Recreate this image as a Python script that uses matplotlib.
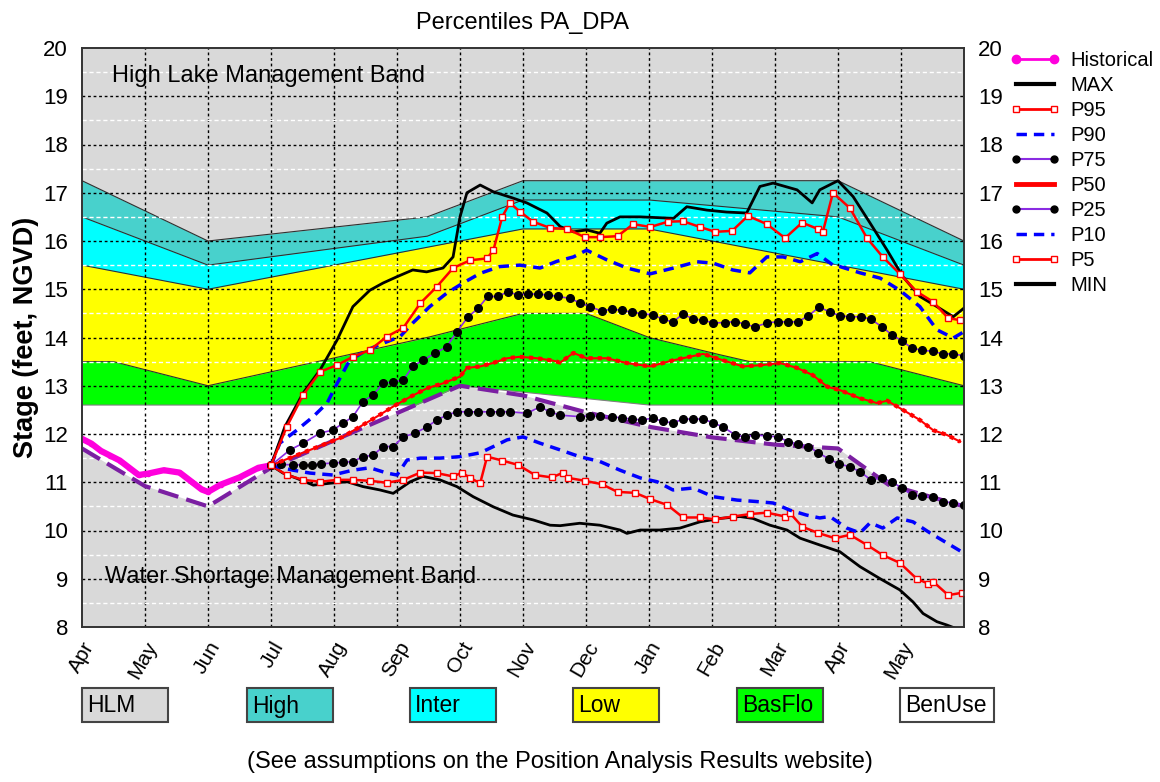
import matplotlib
matplotlib.use('Agg')
import matplotlib.pyplot as plt
from matplotlib.lines import Line2D
from matplotlib.patches import Rectangle
import numpy as np

plt.rcParams['font.family'] = ['Liberation Sans', 'DejaVu Sans']

months = ['Apr', 'May', 'Jun', 'Jul', 'Aug', 'Sep', 'Oct', 'Nov', 'Dec', 'Jan', 'Feb', 'Mar', 'Apr', 'May']

# x in months since Apr 1
# management bands
high_top_x = [0, 2, 5.48, 7, 12, 14]
high_top_y = [17.25, 16.0, 16.5, 17.25, 17.25, 16.0]
inter_top_x = [0, 2, 5.48, 7, 9, 12, 14]
inter_top_y = [16.5, 15.5, 16.1, 16.85, 16.85, 16.5, 15.5]
low_top_x = [0, 2, 7, 9, 12, 14]
low_top_y = [15.5, 15.0, 16.25, 16.25, 15.5, 15.0]
basflo_top_x = [0, 0.5, 2, 5.48, 7, 8, 9, 10, 10.6, 12.5, 14]
basflo_top_y = [13.5, 13.5, 13.0, 14.0, 14.5, 14.5, 14.0, 13.68, 13.5, 13.5, 13.0]
basflo_bot_x = [0, 5.3, 6.0, 9.0, 14]
basflo_bot_y = [12.6, 12.6, 13.0, 12.6, 12.6]
wsm_x = [0, 1, 2, 3, 6, 7, 8, 9, 10, 11, 12, 12.8, 14]
wsm_y = [11.7, 10.92, 10.5, 11.3, 13.0, 12.8, 12.45, 12.15, 11.93, 11.78, 11.7, 10.95, 10.5]

hist_x = [0, 0.15, 0.3, 0.45, 0.6, 0.75, 0.9, 1.05, 1.3, 1.55, 1.75, 1.9, 2.0, 2.2, 2.5, 2.8, 3.0]
hist_y = [11.9, 11.8, 11.65, 11.55, 11.45, 11.3, 11.15, 11.18, 11.25, 11.2, 11.0, 10.85, 10.8, 10.95, 11.1, 11.3, 11.35]

max_x = [3.0, 3.22, 3.51, 3.78, 4.05, 4.3, 4.57, 4.78, 5.0, 5.25, 5.47, 5.73, 5.89, 6.0, 6.11, 6.32, 6.53, 6.84,
         7.06, 7.38, 7.59, 7.8, 8.01, 8.22, 8.33, 8.54, 8.86, 9.39, 9.6, 9.92, 10.23, 10.55, 10.76, 10.97, 11.08,
         11.35, 11.59, 11.71, 12.0, 12.24, 12.51, 12.78, 13.03, 13.3, 13.57, 13.83, 14.0]
max_y = [11.35, 12.15, 12.85, 13.33, 13.95, 14.64, 14.98, 15.13, 15.26, 15.4, 15.36, 15.44, 15.67, 16.5, 17.0, 17.16,
         17.02, 16.89, 16.79, 16.58, 16.3, 16.19, 16.23, 16.16, 16.37, 16.5, 16.5, 16.47, 16.71, 16.64, 16.6, 16.58,
         17.13, 17.2, 17.16, 17.06, 16.79, 17.06, 17.25, 16.92, 16.37, 15.81, 15.26, 14.85, 14.64, 14.43, 14.61]

p95_x = [3.0, 3.25, 3.51, 3.78, 4.05, 4.3, 4.57, 4.84, 5.1, 5.37, 5.63, 5.89, 6.16, 6.43, 6.53, 6.67, 6.79, 6.95,
         7.16, 7.43, 7.7, 7.98, 8.22, 8.5, 8.75, 9.02, 9.3, 9.54, 9.81, 10.05, 10.32, 10.57, 10.87, 11.16, 11.43,
         11.68, 11.76, 11.92, 12.19, 12.46, 12.71, 12.98, 13.25, 13.51, 13.75, 13.94]
p95_y = [11.35, 12.15, 12.81, 13.29, 13.43, 13.6, 13.74, 14.02, 14.2, 14.71, 15.05, 15.44, 15.6, 15.64, 15.81, 16.5,
         16.79, 16.61, 16.4, 16.27, 16.25, 16.08, 16.08, 16.1, 16.35, 16.29, 16.4, 16.41, 16.29, 16.19, 16.21, 16.52,
         16.35, 16.06, 16.38, 16.25, 16.19, 17.0, 16.68, 16.06, 15.67, 15.32, 14.95, 14.74, 14.4, 14.36]

p90_x = [3.0, 3.14, 3.41, 3.67, 3.89, 4.05, 4.25, 4.52, 4.78, 5.05, 5.25, 5.52, 5.79, 6.05, 6.32, 6.63, 6.95, 7.27,
         7.54, 7.8, 8.01, 8.33, 8.65, 9.02, 9.39, 9.76, 10.02, 10.33, 10.6, 10.87, 11.13, 11.4, 11.67, 11.92, 12.03,
         12.35, 12.67, 12.98, 13.3, 13.57, 13.83, 14.0]
p90_y = [11.35, 11.81, 12.08, 12.36, 12.64, 13.05, 13.53, 13.74, 13.88, 14.02, 14.3, 14.64, 14.92, 15.13, 15.33,
         15.47, 15.5, 15.44, 15.58, 15.67, 15.81, 15.61, 15.44, 15.32, 15.44, 15.57, 15.54, 15.4, 15.34, 15.67, 15.67,
         15.57, 15.74, 15.5, 15.47, 15.34, 15.23, 14.98, 14.64, 14.16, 13.99, 14.12]

p75_x = [3.0, 3.3, 3.51, 3.78, 3.98, 4.14, 4.3, 4.46, 4.62, 4.78, 4.94, 5.1, 5.25, 5.41, 5.6, 5.79, 5.95, 6.13, 6.29,
         6.44, 6.6, 6.76, 6.92, 7.08, 7.24, 7.4, 7.56, 7.75, 7.9, 8.06, 8.25, 8.41, 8.57, 8.73, 8.89, 9.06, 9.22,
         9.38, 9.54, 9.7, 9.86, 10.02, 10.2, 10.37, 10.52, 10.68, 10.87, 11.05, 11.21, 11.37, 11.53, 11.7, 11.87,
         12.03, 12.19, 12.37, 12.52, 12.7, 12.86, 13.02, 13.17, 13.33, 13.51, 13.67, 13.83, 14.0]
p75_y = [11.35, 11.67, 11.81, 12.02, 12.08, 12.22, 12.36, 12.67, 12.81, 13.05, 13.08, 13.12, 13.4, 13.53, 13.67,
         13.81, 14.12, 14.43, 14.61, 14.85, 14.85, 14.95, 14.88, 14.9, 14.9, 14.88, 14.85, 14.81, 14.72, 14.64,
         14.55, 14.59, 14.56, 14.53, 14.49, 14.47, 14.38, 14.32, 14.49, 14.38, 14.36, 14.3, 14.31, 14.33, 14.28,
         14.22, 14.3, 14.33, 14.32, 14.33, 14.45, 14.63, 14.53, 14.45, 14.43, 14.43, 14.38, 14.22, 14.05, 13.93,
         13.78, 13.74, 13.71, 13.66, 13.66, 13.62]

p50_x = [3.0, 3.35, 3.62, 3.89, 4.14, 4.41, 4.68, 4.94, 5.21, 5.48, 5.73, 6.0, 6.11, 6.32, 6.52, 6.75, 6.95, 7.22,
         7.48, 7.59, 7.8, 8.01, 8.33, 8.65, 9.02, 9.39, 9.86, 10.17, 10.49, 10.81, 11.08, 11.35, 11.6, 11.83, 12.03,
         12.35, 12.62, 12.78, 13.03, 13.3, 13.51, 13.73, 13.94]
p50_y = [11.35, 11.53, 11.67, 11.81, 11.94, 12.15, 12.36, 12.57, 12.77, 12.95, 13.05, 13.19, 13.37, 13.4, 13.47,
         13.57, 13.6, 13.57, 13.52, 13.48, 13.68, 13.57, 13.57, 13.47, 13.4, 13.53, 13.66, 13.53, 13.4, 13.43, 13.47,
         13.37, 13.22, 12.98, 12.91, 12.74, 12.64, 12.69, 12.5, 12.29, 12.08, 11.98, 11.84]

p25_x = [3.0, 3.16, 3.35, 3.5, 3.65, 3.8, 3.98, 4.14, 4.3, 4.46, 4.62, 4.78, 4.94, 5.1, 5.29, 5.48, 5.63, 5.79, 5.95,
         6.13, 6.29, 6.48, 6.63, 6.79, 7.06, 7.27, 7.43, 7.59, 7.9, 8.06, 8.22, 8.41, 8.57, 8.73, 8.89, 9.06, 9.22,
         9.38, 9.54, 9.7, 9.86, 10.02, 10.17, 10.37, 10.52, 10.68, 10.87, 11.05, 11.21, 11.37, 11.53, 11.69, 11.86,
         12.02, 12.19, 12.35, 12.52, 12.7, 12.86, 13.02, 13.17, 13.33, 13.51, 13.67, 13.83, 14.0]
p25_y = [11.36, 11.37, 11.36, 11.36, 11.36, 11.38, 11.4, 11.41, 11.43, 11.53, 11.56, 11.74, 11.74, 11.94, 12.02,
         12.15, 12.29, 12.39, 12.46, 12.46, 12.46, 12.46, 12.46, 12.46, 12.43, 12.56, 12.46, 12.39, 12.36, 12.38,
         12.38, 12.36, 12.33, 12.31, 12.29, 12.33, 12.26, 12.23, 12.31, 12.31, 12.31, 12.23, 12.15, 11.98, 11.94,
         11.98, 11.96, 11.94, 11.84, 11.79, 11.74, 11.61, 11.48, 11.38, 11.32, 11.22, 11.05, 11.09, 11.0, 10.88,
         10.74, 10.71, 10.7, 10.6, 10.57, 10.53]

p10_x = [3.0, 3.35, 3.62, 3.98, 4.3, 4.57, 4.84, 5.0, 5.16, 5.37, 5.68, 6.0, 6.32, 6.53, 6.75, 7.0, 7.27, 7.59, 7.9,
         8.22, 8.54, 8.86, 9.13, 9.38, 9.7, 10.02, 10.4, 10.71, 10.97, 11.24, 11.5, 11.71, 11.87, 12.14, 12.35,
         12.51, 12.71, 12.94, 13.19, 13.46, 13.73, 14.0]
p10_y = [11.35, 11.25, 11.19, 11.15, 11.25, 11.3, 11.19, 11.15, 11.46, 11.5, 11.5, 11.53, 11.61, 11.74, 11.88,
         11.94, 11.81, 11.67, 11.53, 11.43, 11.25, 11.09, 11.01, 10.84, 10.88, 10.7, 10.63, 10.6, 10.57, 10.42,
         10.32, 10.26, 10.29, 10.05, 9.95, 10.16, 10.05, 10.26, 10.18, 9.95, 9.74, 9.53]

p5_x = [3.0, 3.25, 3.51, 3.78, 4.05, 4.3, 4.57, 4.84, 5.1, 5.37, 5.63, 5.89, 6.03, 6.16, 6.32, 6.43, 6.67, 6.92,
        7.19, 7.46, 7.64, 7.72, 7.98, 8.25, 8.5, 8.78, 9.02, 9.29, 9.54, 9.81, 10.05, 10.33, 10.6, 10.87, 11.16,
        11.24, 11.43, 11.68, 11.95, 12.19, 12.46, 12.71, 12.98, 13.25, 13.43, 13.51, 13.75, 13.97]
p5_y = [11.35, 11.15, 11.05, 11.01, 11.05, 11.05, 11.03, 10.99, 11.05, 11.2, 11.19, 11.12, 11.2, 11.09, 10.98,
        11.53, 11.45, 11.36, 11.15, 11.1, 11.2, 11.09, 11.03, 10.96, 10.8, 10.78, 10.65, 10.53, 10.27, 10.27,
        10.23, 10.29, 10.34, 10.37, 10.29, 10.36, 10.08, 9.95, 9.84, 9.91, 9.7, 9.49, 9.33, 9.0, 8.9, 8.94,
        8.66, 8.71]

min_x = [3.0, 3.19, 3.41, 3.67, 3.94, 4.21, 4.46, 4.73, 4.94, 5.21, 5.41, 5.68, 5.95, 6.21, 6.53, 6.84, 7.16, 7.43,
         7.59, 7.9, 8.22, 8.54, 8.65, 8.86, 9.17, 9.49, 9.81, 10.13, 10.44, 10.65, 10.92, 11.19, 11.4, 11.71, 12.03,
         12.35, 12.67, 12.98, 13.19, 13.35, 13.57, 13.73, 13.85]
min_y = [11.35, 11.19, 11.08, 10.94, 10.98, 11.01, 10.91, 10.84, 10.77, 11.01, 11.12, 11.05, 10.91, 10.7, 10.49,
         10.32, 10.22, 10.11, 10.1, 10.15, 10.11, 10.01, 9.94, 10.01, 10.01, 10.05, 10.18, 10.25, 10.29, 10.25,
         10.11, 10.01, 9.84, 9.7, 9.56, 9.25, 9.0, 8.77, 8.52, 8.28, 8.11, 8.04, 7.98]

band_names = ['HLM', 'High', 'Inter', 'Low', 'BasFlo', 'BenUse']
band_colors = ['#d9d9d9', '#48d1cc', '#00ffff', '#ffff00', '#00ff00', '#ffffff']

fig = plt.figure(figsize=(11.6, 7.82), dpi=100)
ax = fig.add_axes([82 / 1160, 1 - 627 / 782, 882 / 1160, 579 / 782])
ax.set_facecolor(band_colors[0])
ax.set_xlim(0, 14)
ax.set_ylim(8, 20)

# bands on a common grid
xg = np.linspace(0, 14, 1401)
ht = np.interp(xg, high_top_x, high_top_y)
it = np.interp(xg, inter_top_x, inter_top_y)
lt = np.interp(xg, low_top_x, low_top_y)
bt = np.interp(xg, basflo_top_x, basflo_top_y)
bb = np.interp(xg, basflo_bot_x, basflo_bot_y)
ws = np.interp(xg, wsm_x, wsm_y)
ax.fill_between(xg, it, ht, color=band_colors[1], lw=0, zorder=1)
ax.fill_between(xg, lt, it, color=band_colors[2], lw=0, zorder=1)
ax.fill_between(xg, bt, lt, color=band_colors[3], lw=0, zorder=1)
ax.fill_between(xg, bb, bt, color=band_colors[4], lw=0, zorder=1)
ax.fill_between(xg, ws, bb, where=bb > ws, color=band_colors[5], lw=0, zorder=1)
for by in [ht, it, lt, bt]:
    ax.plot(xg, by, color='#303030', lw=0.8, zorder=1.5)
ax.plot(xg, bb, color='#808080', lw=0.8, zorder=1.5)

# grid
for gx in range(1, 14):
    ax.axvline(gx, color='black', lw=1, ls=(0, (2, 2)), zorder=2)
for gy in range(9, 20):
    ax.axhline(gy, color='black', lw=1, ls=(0, (2, 2)), zorder=2)
for gy in np.arange(8.5, 20, 1.0):
    ax.axhline(gy, color='white', lw=1, ls=(0, (3, 2)), zorder=2)

# water shortage line
ax.plot(wsm_x, wsm_y, color='#7b1fa2', lw=3, ls=(0, (5, 2)), zorder=3)

ax.plot(hist_x, hist_y, color='#ff00dd', lw=4.5, marker='o', ms=3, zorder=4)
ax.plot(min_x, min_y, color='black', lw=2, zorder=4)
ax.plot(p5_x, p5_y, color='red', lw=1.8, marker='s', ms=4.5, mfc='white', mec='red', mew=1, zorder=5)
ax.plot(p10_x, p10_y, color='blue', lw=2.5, ls=(0, (3, 2)), zorder=5)
ax.plot(p25_x, p25_y, color='#8a2be2', lw=1.2, marker='o', ms=5.5, mfc='black', mec='black', zorder=5)
ax.plot(p50_x, p50_y, color='red', lw=1.5, zorder=5)
ax.plot(p50_x, p50_y, color='red', lw=3, ls=(0, (1, 1.2)), zorder=5)
ax.plot(p75_x, p75_y, color='#8a2be2', lw=1.2, marker='o', ms=5.5, mfc='black', mec='black', zorder=5)
ax.plot(p90_x, p90_y, color='blue', lw=2.5, ls=(0, (3, 2)), zorder=5)
ax.plot(max_x, max_y, color='black', lw=2, zorder=6)
ax.plot(p95_x, p95_y, color='red', lw=1.8, marker='s', ms=4.5, mfc='white', mec='red', mew=1, zorder=6)

ax.text(0.48, 19.42, 'High Lake Management Band', fontsize=17, va='center', ha='left', zorder=7)
ax.text(0.37, 9.04, 'Water Shortage Management Band', fontsize=17, va='center', ha='left', zorder=7)

ax.set_xticks(range(14))
ax.set_xticklabels(months, rotation=60, ha='right', rotation_mode='anchor', fontsize=15)
ax.set_yticks(range(8, 21))
ax.tick_params(axis='both', length=0)
ax.tick_params(axis='y', pad=10, labelsize=16)
ax.tick_params(axis='x', pad=8)
ax2 = ax.twinx()
ax2.set_ylim(8, 20)
ax2.set_yticks(range(8, 21))
ax2.tick_params(axis='y', length=0, labelsize=16, pad=10)
for sp in list(ax.spines.values()) + list(ax2.spines.values()):
    sp.set_color('#333333')
    sp.set_linewidth(1.2)

ax.set_ylabel('Stage (feet, NGVD)', fontsize=19.5, fontweight='bold', labelpad=3)
ax.set_title('Percentiles PA_DPA', fontsize=17, pad=14)

handles = [
    Line2D([], [], color='#ff00dd', lw=2, marker='o', ms=6),
    Line2D([], [], color='black', lw=3),
    Line2D([], [], color='red', lw=2, marker='s', ms=4, mfc='white', mec='red'),
    Line2D([], [], color='blue', lw=2.5, ls=(0, (3, 2))),
    Line2D([], [], color='#8a2be2', lw=1.5, marker='o', ms=5, mfc='black', mec='black'),
    Line2D([], [], color='red', lw=3.5),
    Line2D([], [], color='#8a2be2', lw=1.5, marker='o', ms=5, mfc='black', mec='black'),
    Line2D([], [], color='blue', lw=2.5, ls=(0, (3, 2))),
    Line2D([], [], color='red', lw=2, marker='s', ms=4, mfc='white', mec='red'),
    Line2D([], [], color='black', lw=3),
]
labels = ['Historical', 'MAX', 'P95', 'P90', 'P75', 'P50', 'P25', 'P10', 'P5', 'MIN']
fig.legend(handles, labels, loc='upper left', bbox_to_anchor=(1010 / 1160, 1 - 51 / 782), frameon=False,
           fontsize=14.5, numpoints=2, handlelength=2.5, handletextpad=0.5, labelspacing=0.3,
           borderaxespad=0, borderpad=0)

# band key boxes
box_left = [82, 247, 410, 573, 737, 900]
box_w = [86, 86, 86, 86, 86, 94]
for name, col, bl, bw in zip(band_names, band_colors, box_left, box_w):
    fig.patches.append(Rectangle((bl / 1160, 1 - 722 / 782), bw / 1160, 34 / 782, transform=fig.transFigure,
                                 facecolor=col, edgecolor='#444444', lw=1.5))
    fig.text((bl + 5) / 1160, 1 - 706 / 782, name, fontsize=16.5, va='center', ha='left')

fig.text(560 / 1160, 1 - 762 / 782, '(See assumptions on the Position Analysis Results website)',
         fontsize=17, ha='center', va='center')

fig.savefig('out.png', dpi=100)
